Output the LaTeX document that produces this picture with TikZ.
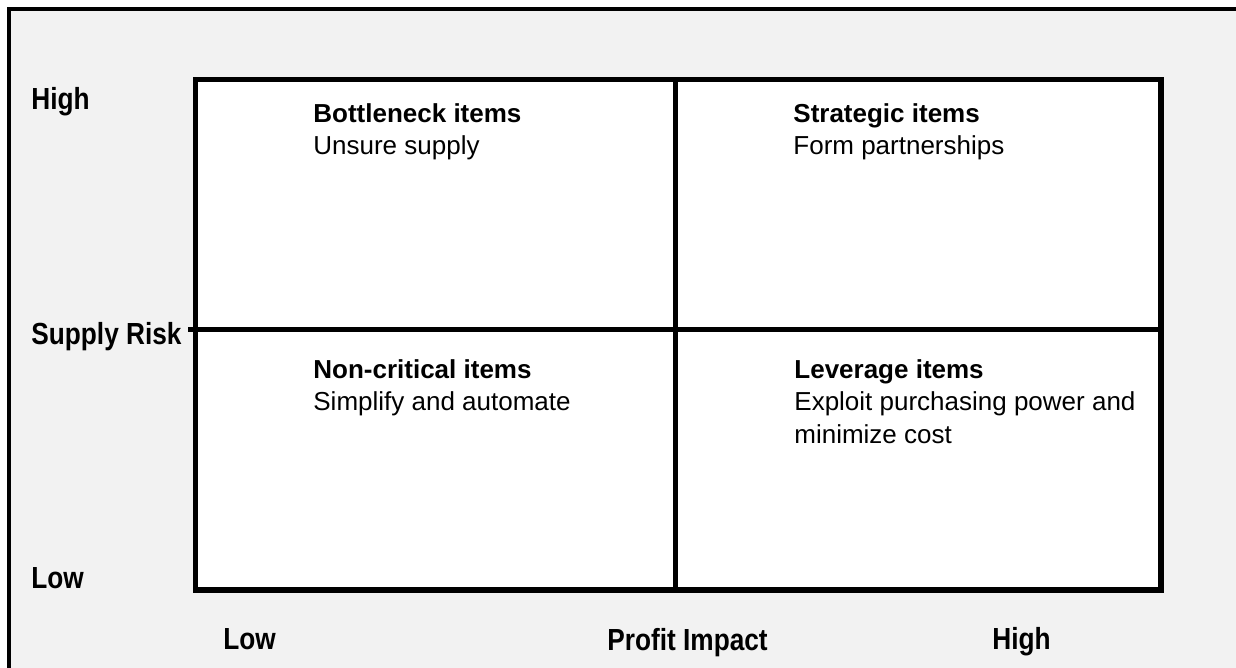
\documentclass[tikz,border=0pt]{standalone}
\usepackage{fontspec}
\setmainfont{Liberation Sans}
\newfontfamily\axisfont[FakeStretch=0.86]{Liberation Sans}
\usetikzlibrary{positioning}

\definecolor{panelgray}{HTML}{F2F2F2}
\tikzset{
  axislabel/.style={anchor=base west, inner sep=0pt, font=\axisfont\bfseries\fontsize{15.25}{18}\selectfont},
  quadtext/.style={anchor=north west, inner sep=0pt, align=left, font=\fontsize{13}{16.25}\selectfont},
  gridline/.style={line width=2.75pt}
}

\begin{document}
\begin{tikzpicture}[x=0.5pt,y=-0.5pt]
\useasboundingbox (0,0) rectangle (1236,668);
\clip (0,0) rectangle (1236,668);
\fill[white] (0,0) rectangle (1236,668);
% outer panel, cut at right and bottom
\draw[line width=1.75pt, fill=panelgray] (9,9) rectangle (1260,690);
% the matrix
\coordinate (tl) at (195.5,79.5);
\coordinate (br) at (1161,590);
\coordinate (midtop) at (675.5,79.5);
\coordinate (midbot) at (675.5,590);
\coordinate (tick) at (188,329.5);
\coordinate (midright) at (1161,329.5);
\draw[gridline, fill=white] (tl) rectangle (br);
\draw[gridline] (midtop) -- (midbot);
\draw[gridline] (tick) -- (midright);
% quadrants
\node[quadtext] (bottleneck) at (313,103) {{\bfseries Bottleneck items}\\Unsure supply};
\node[quadtext] (strategic) at (793,103) {{\bfseries Strategic items}\\Form partnerships};
\node[quadtext] (noncritical) at (313,359) {{\bfseries Non-critical items}\\Simplify and automate};
\node[quadtext] (leverage) at (794,359) {{\bfseries Leverage items}\\Exploit purchasing power and\\minimize cost};
% axes
\node[axislabel] (yhigh) at (31,110) {High};
\node[axislabel] (yrisk) at (31,344) {Supply Risk};
\node[axislabel] (ylow) at (31,588) {Low};
\node[axislabel] (xlow) at (223,649) {Low};
\node[axislabel] (ximpact) at (607,650) {Profit Impact};
\node[axislabel] (xhigh) at (992,649) {High};
\end{tikzpicture}
\end{document}
